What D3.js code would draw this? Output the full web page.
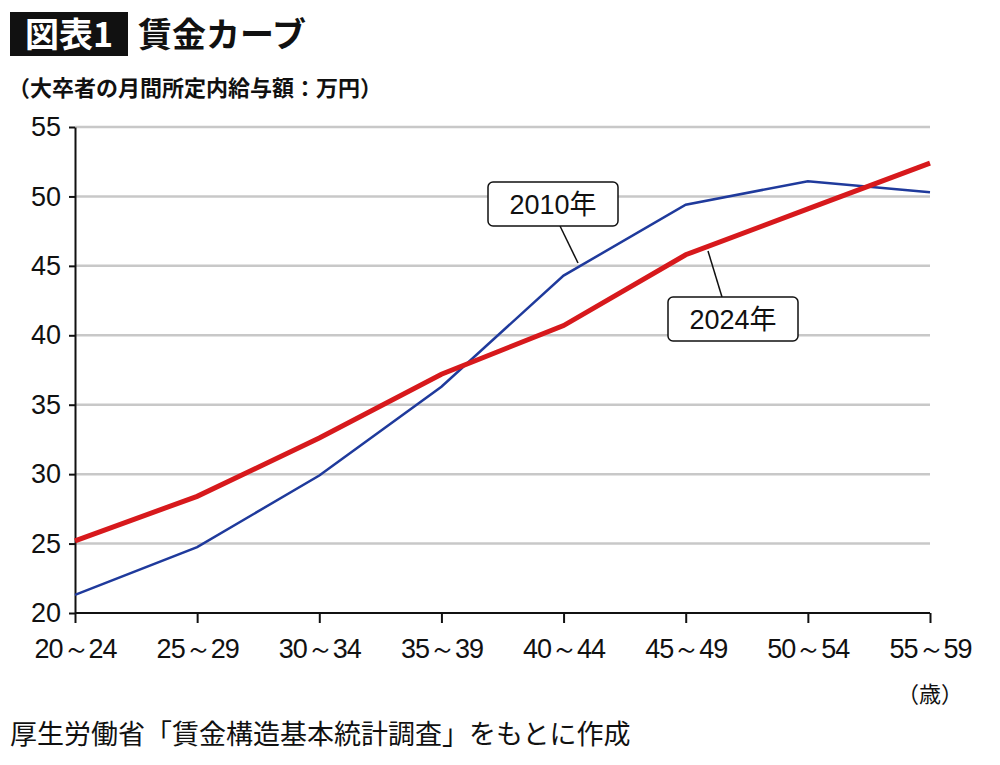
<!DOCTYPE html>
<meta charset="utf-8">
<html lang="ja">
  <head>
    <style>
      body { margin: 0; background: #fff; }
      text { font-family: "Noto Sans CJK JP", "Noto Sans", sans-serif; fill: #111; }
      .grid { stroke: #c8c8c8; stroke-width: 2.5px; }
      .axis path, .axis line { stroke: #111; stroke-width: 2px; }
    </style>
  </head>
  <body>
    <script src="https://cdn.jsdelivr.net/npm/d3@7"></script>
    <svg width="1000" height="765"></svg>
    <script>
      var ages = ["20～24", "25～29", "30～34", "35～39", "40～44", "45～49", "50～54", "55～59"];
      var wage2010 = [21.3, 24.75, 29.9, 36.3, 44.3, 49.4, 51.1, 50.3];
      var wage2024 = [25.2, 28.4, 32.6, 37.2, 40.7, 45.8, 49.1, 52.4];
      var yTicks = [20, 25, 30, 35, 40, 45, 50, 55];

      var svg = d3.select("svg");

      var x = d3.scalePoint().domain(ages).range([75, 930]);
      var y = d3.scaleLinear().domain([20, 55]).range([613, 127]);

      // title
      svg.append("rect").attr("x", 10).attr("y", 12).attr("width", 118).attr("height", 44).attr("fill", "#111");
      svg.append("text").attr("x", 69).attr("y", 47).attr("text-anchor", "middle")
        .attr("font-size", 34).attr("font-weight", "bold").style("fill", "#fff").text("図表1");
      svg.append("text").attr("x", 138).attr("y", 47).attr("font-size", 34).attr("font-weight", "bold").text("賃金カーブ");
      svg.append("text").attr("x", 8).attr("y", 96).attr("font-size", 22).attr("font-weight", "bold").text("（大卒者の月間所定内給与額：万円）");

      svg.selectAll(".grid").data(yTicks.slice(1)).enter().append("line")
        .attr("class", "grid")
        .attr("x1", 75).attr("x2", 930)
        .attr("y1", function(d) { return y(d); }).attr("y2", function(d) { return y(d); });

      var ya = svg.append("g").attr("class", "axis").attr("transform", "translate(75,0)")
        .call(d3.axisLeft(y).tickValues(yTicks).tickSize(6).tickSizeOuter(0));
      ya.selectAll("text").attr("font-size", 27).attr("x", -14).style("font-family", "Liberation Sans, Arial, sans-serif");

      var xa = svg.append("g").attr("class", "axis").attr("transform", "translate(0,613)")
        .call(d3.axisBottom(x).tickSize(10).tickSizeOuter(0));
      xa.select(".domain").attr("d", "M75,0H930");
      xa.selectAll("text").attr("font-size", 27).attr("y", 26).attr("letter-spacing", -1)
        .style("font-family", "Liberation Sans, Arial, sans-serif");

      svg.append("text").attr("x", 930).attr("y", 702).attr("text-anchor", "middle").attr("font-size", 22).text("（歳）");
      svg.append("text").attr("x", 10).attr("y", 744).attr("font-size", 27).text("厚生労働省「賃金構造基本統計調査」をもとに作成");

      var line = d3.line().x(function(d, i) { return x(ages[i]); }).y(function(d) { return y(d); });
      svg.append("path").datum(wage2010).attr("d", line).attr("fill", "none").attr("stroke", "#1f3a9c").attr("stroke-width", 2.5);
      svg.append("path").datum(wage2024).attr("d", line).attr("fill", "none").attr("stroke", "#d7191c").attr("stroke-width", 5);

      function callout(label, bx, by, sx, sy, px, py) {
        var g = svg.append("g");
        g.append("line").attr("x1", sx).attr("y1", sy).attr("x2", px).attr("y2", py)
          .attr("stroke", "#111").attr("stroke-width", 1.5);
        g.append("rect").attr("x", bx).attr("y", by).attr("width", 130).attr("height", 44).attr("rx", 5)
          .attr("fill", "#fff").attr("stroke", "#111").attr("stroke-width", 1.5);
        g.append("text").attr("x", bx + 65).attr("y", by + 32).attr("text-anchor", "middle")
          .attr("font-size", 27).style("font-family", "Liberation Sans, Noto Sans CJK JP, sans-serif").text(label);
      }
      callout("2010年", 488, 182, 560, 226, 578, 263);
      callout("2024年", 668, 297, 722, 297, 708, 251);
    </script>
  </body>
</html>
